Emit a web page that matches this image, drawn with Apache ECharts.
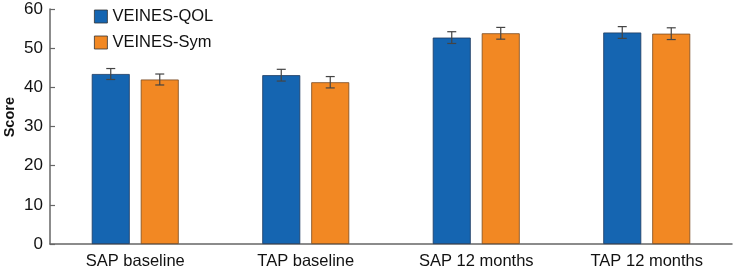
<!DOCTYPE html>
<html>
<head>
<meta charset="utf-8">
<script src="https://cdn.jsdelivr.net/npm/echarts@6/dist/echarts.min.js"></script>
<style>
  html, body { margin: 0; padding: 0; background: #fff; }
  #container { width: 738px; height: 274px; }
</style>
</head>
<body>
<div id="container"></div>
<script>
// data
var categories = ['SAP baseline', 'TAP baseline', 'SAP 12 months', 'TAP 12 months'];
var qolValues = [43.4, 43.1, 52.7, 54.0];
var qolErrors = [1.4, 1.5, 1.5, 1.5];
var symValues = [42.0, 41.3, 53.8, 53.7];
var symErrors = [1.4, 1.45, 1.5, 1.5];
var yTicks = [0, 10, 20, 30, 40, 50, 60];

var BAR_W = 38, BAR_GAP = 11;
var FONT = 'Liberation Sans, Arial, sans-serif';

function errorSeries(values, errors, side) {
    var data = values.map(function (v, i) {
        return [i, v - errors[i], v + errors[i]];
    });
    return {
        type: 'custom',
        silent: true,
        z: 10,
        data: data,
        encode: { x: 0, y: [1, 2] },
        renderItem: function (params, api) {
            var off = side * (BAR_W + BAR_GAP) / 2;
            var lo = api.coord([api.value(0), api.value(1)]);
            var hi = api.coord([api.value(0), api.value(2)]);
            var x = lo[0] + off;
            var cap = 4.5;
            var st = { stroke: '#444', lineWidth: 1.2 };
            return {
                type: 'group',
                children: [
                    { type: 'line', shape: { x1: x, y1: lo[1], x2: x, y2: hi[1] }, style: st },
                    { type: 'line', shape: { x1: x - cap, y1: hi[1], x2: x + cap, y2: hi[1] }, style: st },
                    { type: 'line', shape: { x1: x - cap, y1: lo[1], x2: x + cap, y2: lo[1] }, style: st }
                ]
            };
        }
    };
}

var myChart = echarts.init(document.getElementById('container'));
var option = {
    animation: false,
    textStyle: { fontFamily: FONT },
    grid: { left: 50, right: 6, top: 9, bottom: 30, containLabel: false, outerBoundsMode: 'none' },
    graphic: [{
        type: 'text',
        left: 2,
        top: 97,
        rotation: Math.PI / 2,
        style: { text: 'Score', font: 'bold 14.5px ' + FONT, fill: '#111' }
    }],
    legend: {
        orient: 'vertical',
        left: 89,
        top: 3,
        icon: 'rect',
        itemWidth: 13,
        itemHeight: 13,
        itemGap: 9,
        itemStyle: { borderColor: '#333', borderWidth: 0.8 },
        textStyle: { fontSize: 16.5, color: '#111', fontFamily: FONT },
        data: ['VEINES-QOL', 'VEINES-Sym']
    },
    xAxis: {
        type: 'category',
        data: categories,
        axisLine: { lineStyle: { color: '#666', width: 1.5 } },
        axisTick: { show: false },
        axisLabel: { fontSize: 16.5, color: '#111', margin: 9 }
    },
    yAxis: {
        type: 'value',
        min: 0,
        max: 60,
        interval: 10,
        axisLine: { show: true, lineStyle: { color: '#666', width: 1.5 } },
        axisTick: { show: true, inside: true, length: 5, lineStyle: { color: '#666', width: 1.2 } },
        splitLine: { show: false },
        axisLabel: {
            fontSize: 17, color: '#111', margin: 7,
            formatter: function (v) { return yTicks.indexOf(v) >= 0 ? String(v) : ''; }
        }
    },
    series: [
        {
            name: 'VEINES-QOL',
            type: 'bar',
            data: qolValues,
            barWidth: BAR_W,
            barGap: (BAR_GAP / BAR_W * 100).toFixed(1) + '%',
            itemStyle: { color: '#1565b1', borderColor: '#1d3a60', borderWidth: 0.8 }
        },
        {
            name: 'VEINES-Sym',
            type: 'bar',
            data: symValues,
            barWidth: BAR_W,
            itemStyle: { color: '#f28823', borderColor: '#7a4a20', borderWidth: 0.8 }
        },
        errorSeries(qolValues, qolErrors, -1),
        errorSeries(symValues, symErrors, 1)
    ]
};
myChart.setOption(option);
</script>
</body>
</html>
